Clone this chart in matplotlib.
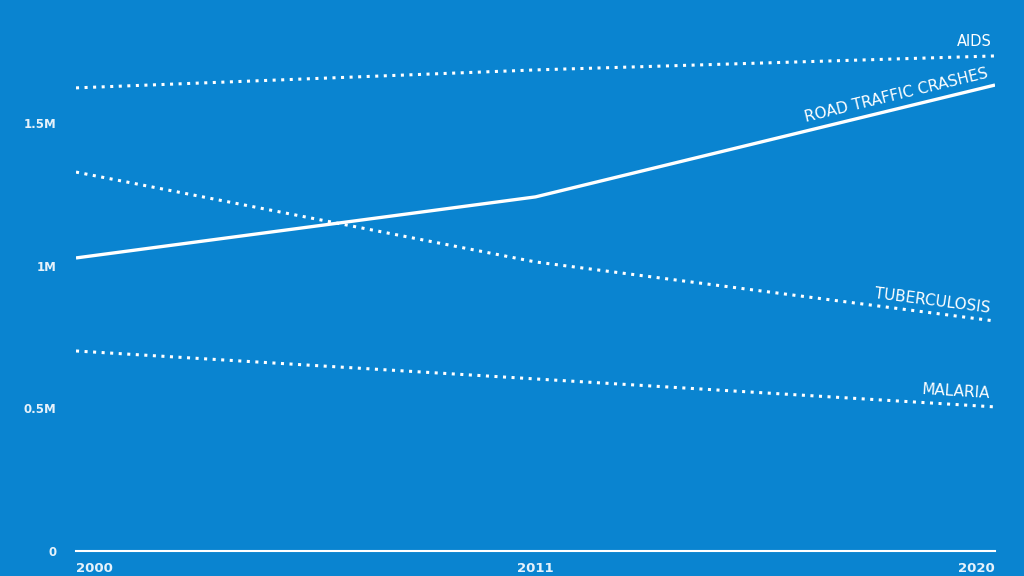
import numpy as np
import matplotlib
matplotlib.use('Agg')
import matplotlib.pyplot as plt

years = ['2000', '2011', '2020']
aids = [1.623e6, 1.686e6, 1.735e6]
road = [1.027e6, 1.241e6, 1.633e6]
tb = [1.328e6, 1.013e6, 0.806e6]
malaria = [0.701e6, 0.603e6, 0.505e6]

yticks = [0, 0.5e6, 1e6, 1.5e6]
ytick_labels = ['0', '0.5M', '1M', '1.5M']

BG = '#0a84d0'
TXT = '#e6f2fb'
FAM = ['DejaVu Sans']

fig = plt.figure(figsize=(10.24, 5.76), dpi=100, facecolor=BG)
ax = fig.add_axes([76 / 1024, 1 - 551 / 576, (995 - 76) / 1024, 551 / 576])
ax.set_facecolor(BG)

x = np.arange(len(years))
dot = dict(color='white', lw=2.2, ls=(0, (1, 1.8)))
ax.plot(x, aids, **dot)
ax.plot(x, tb, **dot)
ax.plot(x, malaria, **dot)
ax.plot(x, road, color='white', lw=2.4, solid_capstyle='butt')

ax.set_xlim(x[0], x[-1])
ax.set_ylim(0, 1.931e6)
ax.set_xticks(x)
ax.set_xticklabels(years)
ax.set_yticks(yticks)
ax.set_yticklabels(ytick_labels)
for s in ['top', 'right', 'left']:
    ax.spines[s].set_visible(False)
ax.spines['bottom'].set_color('white')
ax.spines['bottom'].set_linewidth(1.5)
ax.tick_params(length=0, colors=TXT)
ax.tick_params(axis='y', pad=14, labelsize=8.5)
ax.tick_params(axis='x', pad=8, labelsize=9.5)
for lab in ax.get_xticklabels() + ax.get_yticklabels():
    lab.set_fontweight('bold')
xl = ax.get_xticklabels()
xl[0].set_ha('left')
xl[-1].set_ha('right')
fig.canvas.draw()


def seg_angle(xs, ys):
    p = ax.transData.transform(np.column_stack([xs, ys]))
    return np.degrees(np.arctan2(p[1, 1] - p[0, 1], p[1, 0] - p[0, 0]))


def label(text, series, dy, size=11):
    ang = seg_angle(x[1:], series[1:])
    ax.annotate(text, xy=(x[-1], series[-1]), xytext=(-4, dy),
                textcoords='offset points', ha='right', va='bottom',
                rotation=ang, rotation_mode='anchor', color='white',
                fontsize=size, family=FAM)


ax.annotate('AIDS', xy=(x[-1], aids[-1]), xytext=(-2, 5),
            textcoords='offset points', ha='right', va='bottom',
            color='white', fontsize=10.5, family=FAM)
label('ROAD TRAFFIC CRASHES', road, 3)
label('TUBERCULOSIS', tb, 4)
label('MALARIA', malaria, 4)

fig.savefig('out.png', dpi=100, facecolor=BG)
